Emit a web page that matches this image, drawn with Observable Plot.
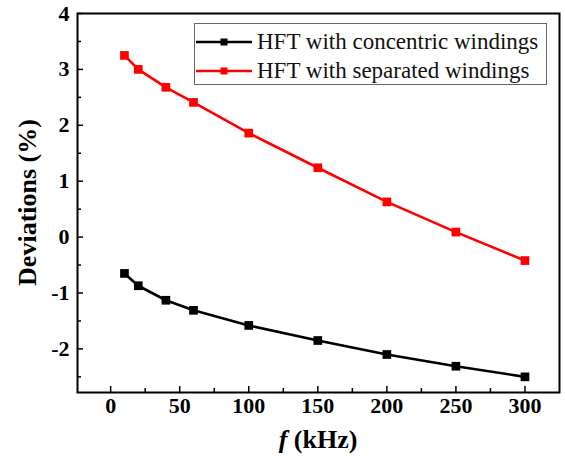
<!DOCTYPE html>
<html>
<head>
<meta charset="utf-8">
<script src="https://cdn.jsdelivr.net/npm/d3@7"></script>
<script src="https://cdn.jsdelivr.net/npm/@observablehq/plot@0.6"></script>
<style>
  html, body { margin: 0; padding: 0; background: white; }
  #wrap { position: relative; width: 565px; height: 458px; }
  #legend {
    position: absolute; left: 194px; top: 23px; width: 353px; height: 62px;
    border: 1px solid #666; background: white; box-sizing: border-box;
    font-family: "Liberation Serif"; font-size: 23px; color: #111;
  }
  .row { position: absolute; left: 0; height: 28px; display: flex; align-items: center; white-space: nowrap; }
  .row svg { margin-left: 1px; margin-right: 5px; }
</style>
</head>
<body>
<div id="wrap"></div>
<script>
const freq = [10, 20, 40, 60, 100, 150, 200, 250, 300];
const concentric = [-0.65, -0.87, -1.13, -1.31, -1.58, -1.85, -2.10, -2.31, -2.50];
const separated = [3.25, 3.00, 2.68, 2.41, 1.86, 1.24, 0.63, 0.09, -0.42];
const seriesNames = ["HFT with concentric windings", "HFT with separated windings"];
const seriesColors = ["#000000", "#ff0000"];
const xTicks = [0, 50, 100, 150, 200, 250, 300];
const xMinor = [25, 75, 125, 175, 225, 275];
const yTicks = [-2, -1, 0, 1, 2, 3, 4];
const yMinor = [-2.5, -1.5, -0.5, 0.5, 1.5, 2.5, 3.5];

const rows = [];
freq.forEach((f, i) => {
  rows.push({f, v: concentric[i], s: seriesNames[0]});
  rows.push({f, v: separated[i], s: seriesNames[1]});
});

const font = "Liberation Serif";
const plot = Plot.plot({
  width: 565, height: 458,
  marginLeft: 77, marginRight: 6, marginTop: 13, marginBottom: 66,
  style: {fontFamily: font, background: "white", color: "black"},
  x: {domain: [-24, 325]},
  y: {domain: [-2.78, 4]},
  color: {domain: seriesNames, range: seriesColors},
  marks: [
    Plot.axisX({ticks: xTicks, tickSize: -6, tickPadding: 11, fontFamily: font, fontSize: 22, fontWeight: "bold", strokeWidth: 1.5, label: null}),
    Plot.axisX({ticks: xMinor, tickSize: -4, tickFormat: () => "", strokeWidth: 1.5, label: null}),
    Plot.axisY({ticks: yTicks, tickSize: -6, tickPadding: 14, fontFamily: font, fontSize: 22, fontWeight: "bold", strokeWidth: 1.5, label: null, tickFormat: d => String(d)}),
    Plot.axisY({ticks: yMinor, tickSize: -4, tickFormat: () => "", strokeWidth: 1.5, label: null}),
    Plot.line(rows, {x: "f", y: "v", z: "s", stroke: "s", strokeWidth: 2.6}),
    Plot.dot(rows, {x: "f", y: "v", fill: "s", symbol: "square", r: 4.9}),
    Plot.frame({stroke: "black", strokeWidth: 2})
  ]
});

const wrap = document.getElementById("wrap");
wrap.appendChild(plot);

// axis titles
const svg = d3.select(plot);
const xr = plot.scale("x").range, yr = plot.scale("y").range;
const cx = (xr[0] + xr[1]) / 2, cy = (yr[0] + yr[1]) / 2;
const xt = svg.append("text")
  .attr("x", cx).attr("y", 448).attr("text-anchor", "middle")
  .attr("font-size", 26).attr("font-weight", "bold").attr("fill", "black");
xt.append("tspan").attr("font-style", "italic").text("f");
xt.append("tspan").text(" (kHz)");
svg.append("text")
  .attr("transform", `translate(27,${cy}) rotate(-90)`)
  .attr("text-anchor", "middle").attr("dominant-baseline", "central")
  .attr("font-size", 26).attr("font-weight", "bold").attr("fill", "black")
  .text("Deviations (%)");
svg.selectAll("text").attr("font-family", font).style("font-family", font);

// legend
const legend = document.createElement("div");
legend.id = "legend";
seriesNames.forEach((name, i) => {
  const row = document.createElement("div");
  row.className = "row";
  row.style.top = (i === 0 ? 4 : 33) + "px";
  row.innerHTML = `<svg width="56" height="12"><line x1="0" x2="56" y1="6" y2="6" stroke="${seriesColors[i]}" stroke-width="2.5"/><rect x="24.5" y="2.5" width="7" height="7" fill="${seriesColors[i]}"/></svg><span>${name}</span>`;
  legend.appendChild(row);
});
wrap.appendChild(legend);
</script>
</body>
</html>
